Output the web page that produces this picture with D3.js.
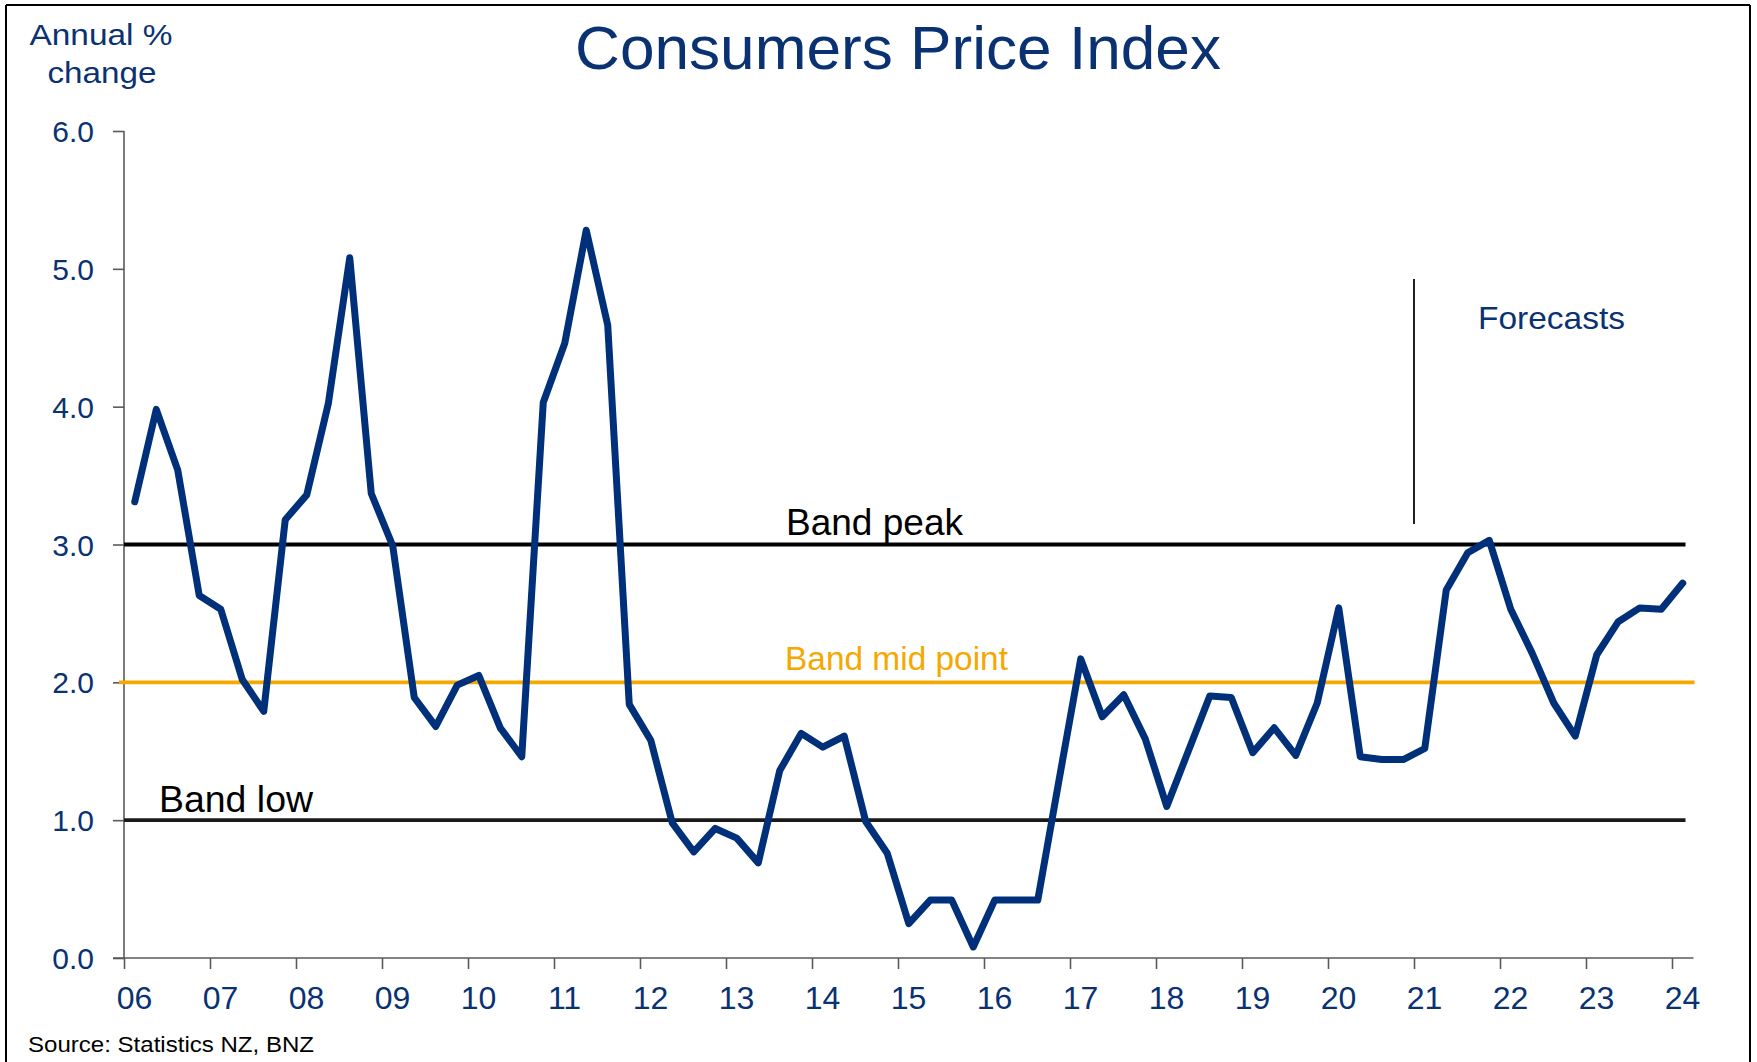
<!DOCTYPE html>
<html>
<head>
<meta charset="utf-8">
<script src="https://cdn.jsdelivr.net/npm/d3@7"></script>
<style>
  html, body { margin: 0; padding: 0; background: #fff; }
  svg { display: block; }
  text { font-family: "Liberation Sans", Arial, sans-serif; }
</style>
</head>
<body>
<svg id="chart" width="1757" height="1062"></svg>
<script>
// ---- Data (annual % change, quarterly, Mar-2006 .. Mar-2024) ----
const startYear = 2006;
const cpi = [
  3.31, 3.98, 3.54, 2.63,
  2.53, 2.02, 1.79, 3.18,
  3.36, 4.02, 5.08, 3.37,
  2.99, 1.89, 1.68, 1.98,
  2.05, 1.67, 1.46, 4.03,
  4.46, 5.28, 4.59, 1.84,
  1.58, 0.98, 0.77, 0.94,
  0.87, 0.69, 1.36, 1.63,
  1.53, 1.61, 0.99, 0.76,
  0.25, 0.42, 0.42, 0.08,
  0.42, 0.42, 0.42, 1.30,
  2.17, 1.75, 1.91, 1.59,
  1.10, 1.50, 1.90, 1.89,
  1.49, 1.67, 1.47, 1.85,
  2.54, 1.46, 1.44, 1.44,
  1.52, 2.67, 2.94, 3.03,
  2.53, 2.21, 1.85, 1.61,
  2.20, 2.44, 2.54, 2.53,
  2.72
];
const yearTicks = d3.range(2006, 2025);
const yTicks = [0, 1, 2, 3, 4, 5, 6];
const bandLevels = [
  { name: "Band peak", value: 3, color: "#000000" },
  { name: "Band mid point", value: 2, color: "#F5A800" },
  { name: "Band low", value: 1, color: "#1a1a1a" }
];
const forecastStart = 2021;

// ---- Layout ----
const navy = "#0a3273";
const lineNavy = "#00307a";
const axisGrey = "#5a5a5a";

const svg = d3.select("#chart");
const x = d3.scaleLinear().domain([2006, 2024.25]).range([124, 1693.5]);
const y = d3.scaleLinear().domain([0, 6]).range([958, 131]);

// outer frame
svg.append("line").attr("x1", 6).attr("x2", 6).attr("y1", 5).attr("y2", 1062).attr("stroke", "#000").attr("stroke-width", 2);
svg.append("line").attr("x1", 6).attr("x2", 1750).attr("y1", 5).attr("y2", 5).attr("stroke", "#000").attr("stroke-width", 2);
svg.append("line").attr("x1", 1750).attr("x2", 1750).attr("y1", 5).attr("y2", 1062).attr("stroke", "#000").attr("stroke-width", 2);

// title
svg.append("text").attr("x", 898).attr("y", 69).attr("text-anchor", "middle")
  .attr("font-size", 61).attr("fill", navy)
  .attr("textLength", 646).attr("lengthAdjust", "spacingAndGlyphs")
  .text("Consumers Price Index");

// y axis label
svg.append("text").attr("x", 101).attr("y", 45).attr("text-anchor", "middle")
  .attr("font-size", 30).attr("fill", navy)
  .attr("textLength", 143).attr("lengthAdjust", "spacingAndGlyphs").text("Annual %");
svg.append("text").attr("x", 102).attr("y", 83).attr("text-anchor", "middle")
  .attr("font-size", 30).attr("fill", navy)
  .attr("textLength", 109).attr("lengthAdjust", "spacingAndGlyphs").text("change");

// y axis
const yAxis = d3.axisLeft(y).tickValues(yTicks).tickFormat(d3.format(".1f")).tickSize(11).tickPadding(20);
const gy = svg.append("g").attr("transform", "translate(124,0)").call(yAxis);
gy.select(".domain").attr("stroke", axisGrey).attr("stroke-width", 1.6).attr("d", "M0," + y(6) + "V" + y(0));
gy.selectAll(".tick line").attr("stroke", axisGrey).attr("stroke-width", 1.6);
gy.selectAll(".tick text").attr("fill", navy).attr("font-size", 30)
  .attr("font-family", "Liberation Sans, Arial, sans-serif").attr("x", -30).attr("dy", "0.35em");

// x axis
const xAxis = d3.axisBottom(x).tickValues(yearTicks).tickFormat(d => String(d).slice(2)).tickSize(11);
const gx = svg.append("g").attr("transform", "translate(0,958)").call(xAxis);
gx.select(".domain").attr("stroke", axisGrey).attr("stroke-width", 1.6).attr("d", "M113,0H" + x(2024.25));
gx.selectAll(".tick line").attr("stroke", axisGrey).attr("stroke-width", 1.6);
gx.selectAll(".tick text").attr("fill", navy).attr("font-size", 32)
  .attr("font-family", "Liberation Sans, Arial, sans-serif")
  .attr("x", 10).attr("y", 51).attr("dy", 0);

// band lines
svg.selectAll(".band").data(bandLevels).enter().append("line")
  .attr("class", "band")
  .attr("x1", d => d.value === 2 ? x(2006) - 5 : x(2006))
  .attr("x2", d => d.value === 2 ? x(2024.25) + 1 : x(2024.25) - 8)
  .attr("y1", d => y(d.value)).attr("y2", d => y(d.value))
  .attr("stroke", d => d.color).attr("stroke-width", 3.8);

// band labels
svg.append("text").attr("x", 786).attr("y", y(3) - 10).attr("font-size", 36).attr("fill", "#000")
  .attr("textLength", 177).attr("lengthAdjust", "spacingAndGlyphs").text("Band peak");
svg.append("text").attr("x", 785).attr("y", y(2) - 12).attr("font-size", 33).attr("fill", "#F5A800")
  .attr("textLength", 223).attr("lengthAdjust", "spacingAndGlyphs").text("Band mid point");
svg.append("text").attr("x", 159).attr("y", y(1) - 8).attr("font-size", 36).attr("fill", "#000")
  .attr("textLength", 154).attr("lengthAdjust", "spacingAndGlyphs").text("Band low");

// forecast marker
svg.append("line").attr("x1", x(forecastStart)).attr("x2", x(forecastStart))
  .attr("y1", 279).attr("y2", 524).attr("stroke", "#222").attr("stroke-width", 2);
svg.append("text").attr("x", 1478).attr("y", 329).attr("font-size", 32).attr("fill", navy)
  .attr("textLength", 147).attr("lengthAdjust", "spacingAndGlyphs").text("Forecasts");

// CPI line
const line = d3.line()
  .x((d, i) => x(startYear + 0.125 + i * 0.25))
  .y(d => y(d));
svg.append("path").datum(cpi).attr("d", line)
  .attr("fill", "none").attr("stroke", lineNavy).attr("stroke-width", 7)
  .attr("stroke-linejoin", "round").attr("stroke-linecap", "round");

// source
svg.append("text").attr("x", 28).attr("y", 1052).attr("font-size", 22).attr("fill", "#000")
  .attr("textLength", 286).attr("lengthAdjust", "spacingAndGlyphs")
  .text("Source: Statistics NZ, BNZ");
</script>
</body>
</html>
